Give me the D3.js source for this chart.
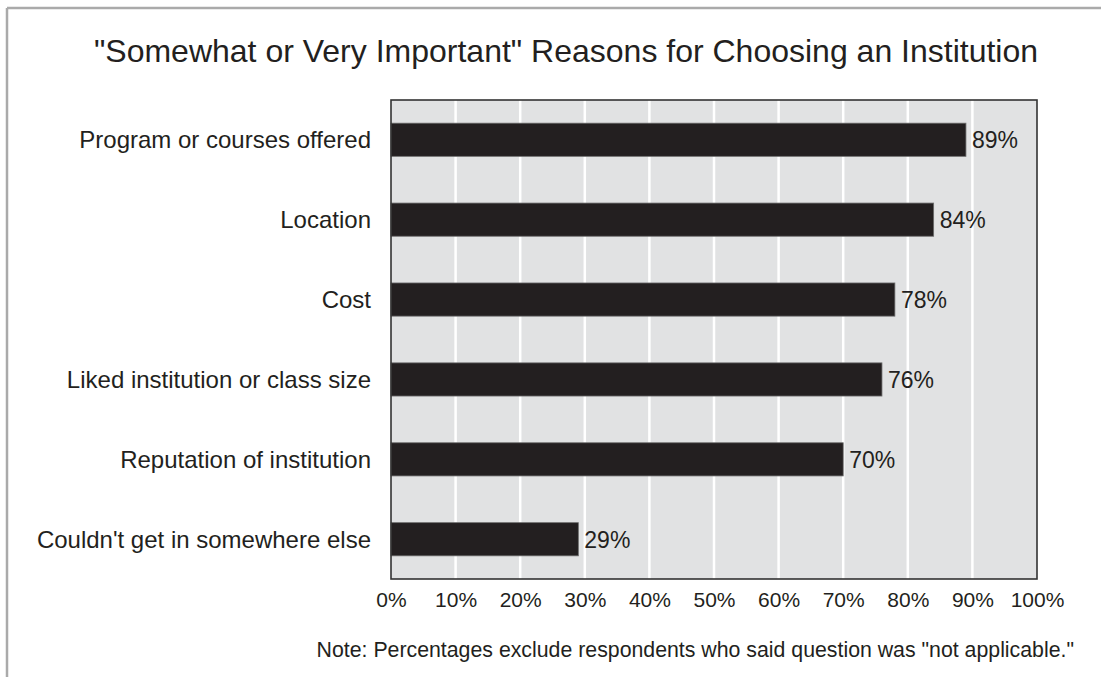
<!DOCTYPE html>
<html>
<head>
<meta charset="utf-8">
<script src="https://cdn.jsdelivr.net/npm/d3@7"></script>
<style>
  html, body { margin: 0; padding: 0; background: #fff; }
  svg { display: block; font-family: "Liberation Sans", Arial, Helvetica, sans-serif; }
</style>
</head>
<body>
<svg id="chart" width="1101" height="677"></svg>
<script>
// Survey reasons, top to bottom
const categories = [
  "Program or courses offered",
  "Location",
  "Cost",
  "Liked institution or class size",
  "Reputation of institution",
  "Couldn't get in somewhere else"
];
const percentValues = [89, 84, 78, 76, 70, 29];
const tickValues = [0, 10, 20, 30, 40, 50, 60, 70, 80, 90, 100];
const tickLabels = ["0%", "10%", "20%", "30%", "40%", "50%", "60%", "70%", "80%", "90%", "100%"];

const titleText = "\"Somewhat or Very Important\" Reasons for Choosing an Institution";
const noteText = "Note: Percentages exclude respondents who said question was \"not applicable.\"";

const svg = d3.select("#chart");
const W = 1101, H = 677;
const plot = { left: 391, right: 1037, top: 100, bottom: 579 };
const ink = "#231f20";

// Frame: top and left rules only
svg.append("line").attr("x1", 7).attr("x2", W).attr("y1", 8).attr("y2", 8)
  .attr("stroke", "#aaaaaa").attr("stroke-width", 2.5);
svg.append("line").attr("x1", 7).attr("x2", 7).attr("y1", 8).attr("y2", H)
  .attr("stroke", "#aaaaaa").attr("stroke-width", 2.5);

const x = d3.scaleLinear().domain([0, 100]).range([plot.left, plot.right]);
const y = d3.scaleBand().domain(categories).range([plot.top, plot.bottom]).paddingInner(0.585).paddingOuter(0.29);

// Plot background
svg.append("rect")
  .attr("x", plot.left).attr("y", plot.top)
  .attr("width", plot.right - plot.left).attr("height", plot.bottom - plot.top)
  .attr("fill", "#e1e2e3");

// Vertical white gridlines
svg.append("g").selectAll("line")
  .data(tickValues.filter(t => t > 0 && t < 100))
  .join("line")
  .attr("x1", d => x(d)).attr("x2", d => x(d))
  .attr("y1", plot.top).attr("y2", plot.bottom)
  .attr("stroke", "#ffffff").attr("stroke-width", 2.5);

// Bars
svg.append("g").selectAll("rect")
  .data(categories)
  .join("rect")
  .attr("x", x(0))
  .attr("y", d => y(d))
  .attr("width", (d, i) => x(percentValues[i]) - x(0))
  .attr("height", y.bandwidth())
  .attr("fill", ink)
  .attr("stroke", "#6b6b6b").attr("stroke-width", 0.8);

// Value labels
svg.append("g").selectAll("text")
  .data(categories)
  .join("text")
  .attr("x", (d, i) => x(percentValues[i]) + 6)
  .attr("y", d => y(d) + y.bandwidth() / 2)
  .attr("dy", "0.36em")
  .attr("font-size", 23)
  .attr("fill", ink)
  .text((d, i) => percentValues[i] + "%");

// Plot border
svg.append("rect")
  .attr("x", plot.left).attr("y", plot.top)
  .attr("width", plot.right - plot.left).attr("height", plot.bottom - plot.top)
  .attr("fill", "none").attr("stroke", "#333333").attr("stroke-width", 1.6);

// Category axis
const yAxis = svg.append("g")
  .attr("transform", `translate(${plot.left},0)`)
  .call(d3.axisLeft(y).tickSize(0).tickPadding(20));
yAxis.select(".domain").remove();
yAxis.selectAll("text")
  .attr("font-size", 24)
  .attr("dy", "0.35em")
  .attr("font-family", "Liberation Sans, Arial, sans-serif")
  .attr("fill", ink);

// Percent axis
const xAxis = svg.append("g")
  .attr("transform", `translate(0,${plot.bottom})`)
  .call(d3.axisBottom(x).tickValues(tickValues).tickFormat((d, i) => tickLabels[i]).tickSize(0).tickPadding(13));
xAxis.select(".domain").remove();
xAxis.selectAll("text")
  .attr("font-size", 21)
  .attr("font-family", "Liberation Sans, Arial, sans-serif")
  .attr("fill", ink);

// Title
svg.append("text")
  .attr("x", 566).attr("y", 62)
  .attr("text-anchor", "middle")
  .attr("font-size", 32)
  .attr("fill", ink)
  .text(titleText);

// Note
svg.append("text")
  .attr("x", 1074).attr("y", 657)
  .attr("text-anchor", "end")
  .attr("font-size", 21.3)
  .attr("fill", ink)
  .text(noteText);
</script>
</body>
</html>
